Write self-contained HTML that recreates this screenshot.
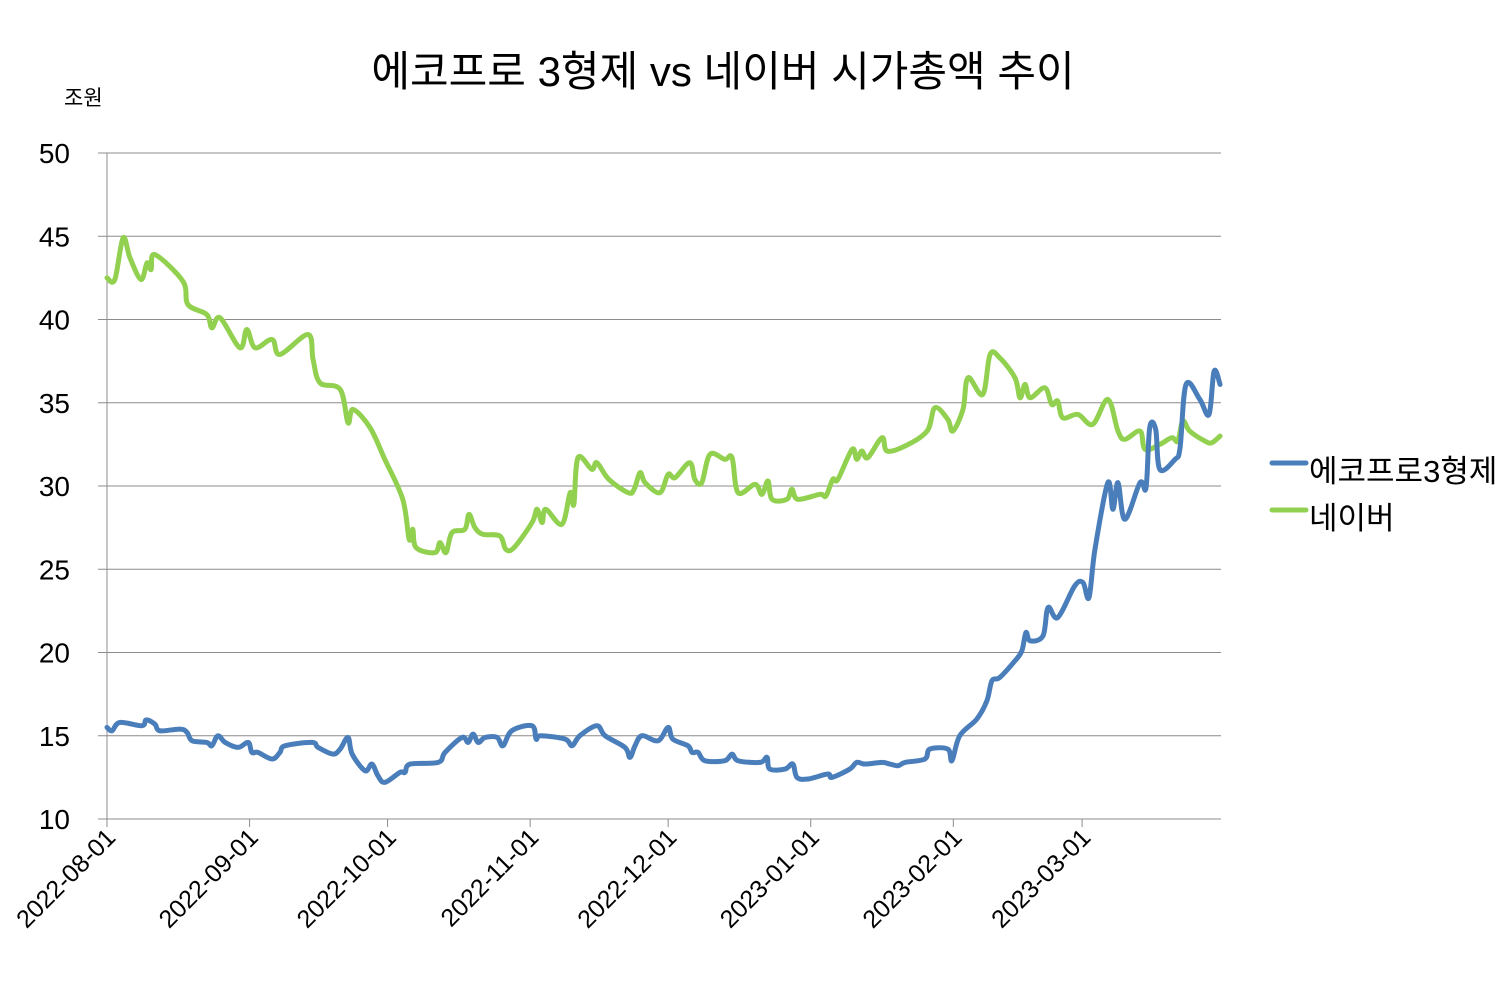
<!DOCTYPE html>
<html><head><meta charset="utf-8">
<style>
html,body{margin:0;padding:0;background:#fff;}
svg{display:block;font-family:"Liberation Sans","Noto Sans CJK KR",sans-serif;}
</style></head>
<body>
<svg id="chart" width="1509" height="981" viewBox="0 0 1509 981" xmlns="http://www.w3.org/2000/svg">
<rect width="1509" height="981" fill="#fff"/>
<text x="723" y="86" font-size="42" text-anchor="middle" fill="#000">에코프로 3형제 vs 네이버 시가총액 추이</text>
<text x="64" y="105" font-size="21" fill="#000">조원</text>
<g id="grid"></g>
<g id="axes"></g>
<g id="series"></g>
<g>
  <g>
    <line x1="1272" y1="463" x2="1306" y2="463" stroke="#4a7ebb" stroke-width="5" stroke-linecap="round"/>
    <text x="1309" y="482" font-size="31" fill="#000">에코프로3형제</text>
  </g>
  <g>
    <line x1="1272" y1="510" x2="1306" y2="510" stroke="#92d050" stroke-width="5" stroke-linecap="round"/>
    <text x="1309" y="529" font-size="31" fill="#000">네이버</text>
  </g>
</g>
</svg>
<script>
// day offsets from 2022-08-01
const naverDays=[0,1.7,3.5,5,7.4,8.7,9.6,10.4,16.5,17.6,21.7,22.8,24.6,28.9,30.4,32.2,35.9,37.6,43.7,44.8,46.3,50.7,52.4,53.5,57.2,60.4,64.3,65.7,66.5,67.2,71.3,72.4,73.7,75,77.8,78.7,80,81.7,85.4,86.7,88.5,92.4,93.5,94.6,95.4,98.9,100.7,101.5,102.4,105.4,106.5,109.1,113.3,114.6,115.9,117,120.2,122,123.5,126.7,127.8,129.3,131.1,134.3,135.9,137.2,140.9,142.4,143.7,144.6,147.8,148.9,150.2,155,156.3,157.8,158.9,162,163,164.1,165.4,168.5,169.6,173.5,178.3,180,182.8,183.9,186.1,187.2,190.4,192,194.1,197.4,198.5,199.6,200.7,203.9,205.4,206.7,207.8,211.1,214.3,217.6,219.8,221.3,224.6,225.7,228.9,231.5,232.8,233.9,235.4,238.7,240.2,242];
const naverValues=[42.5,42.4,44.9,43.7,42.4,43.4,43,43.9,42.3,40.9,40.3,39.5,40.1,38.3,39.4,38.3,38.8,37.9,39.1,37.6,36.2,35.8,33.8,34.6,33.5,31.6,29.2,26.8,27.4,26.3,26,26.6,26,27.2,27.4,28.3,27.5,27.1,27,26.2,26.3,27.8,28.6,27.8,28.6,27.7,29.6,28.9,31.7,31,31.4,30.4,29.6,29.8,30.8,30.2,29.6,30.7,30.5,31.4,30.4,30.2,31.9,31.6,31.7,29.6,30.1,29.5,30.3,29.2,29.2,29.8,29.2,29.5,29.4,30.4,30.4,32.2,31.6,32.1,31.7,32.9,32.1,32.4,33.3,34.7,34,33.3,34.6,36.5,35.5,37.9,37.7,36.5,35.3,36.1,35.3,35.9,34.9,35.1,34.1,34.3,33.7,35.2,33.3,32.8,33.3,32.2,32.5,32.9,32.7,33.9,33.3,32.7,32.6,33];
const ecoDays=[0,1.1,2.8,7.6,8.5,10.4,11.5,15.9,17.4,18.5,21.7,22.8,24.1,25.7,28.5,30.7,31.5,32.8,35.9,37.6,38.7,44.6,45.9,49.1,50.7,52.4,53.3,56.1,57.6,58.9,60.4,63.7,64.8,65.9,72,73.5,77.2,78.5,79.6,80.7,82.2,84.8,86.1,88,92.4,93.3,94.3,99.6,101.1,102.8,106.5,108.3,112.6,113.7,114.8,116.3,119.8,122,123,126.3,127.2,128.5,130,134.3,135.9,137.2,142,143.5,144.1,147.4,149.1,150,152.4,156.7,157.6,161.5,163,164.8,168.5,170.2,172,173.5,177.8,178.9,182.8,183.7,185.4,189.1,191.3,192.4,194.1,197.4,198.9,199.8,200.7,203.5,204.6,206.7,210.4,212.2,213.5,214.8,217.6,218.7,219.8,221.3,224.6,225.9,226.7,228,228.9,232.2,233.3,234.6,237.6,239.6,240.7,242];
const ecoValues=[15.5,15.3,15.8,15.6,15.95,15.7,15.3,15.4,15.2,14.7,14.6,14.4,15,14.6,14.3,14.6,14,14,13.6,14,14.4,14.6,14.3,13.9,14.2,14.9,13.9,12.9,13.3,12.6,12.2,12.8,12.8,13.3,13.4,14,14.9,14.6,15.1,14.6,14.9,14.9,14.4,15.3,15.6,14.8,15,14.8,14.4,15,15.6,15,14.3,13.7,14.4,15,14.7,15.5,14.8,14.4,14,14,13.5,13.5,13.9,13.5,13.4,13.7,13,13,13.3,12.5,12.4,12.7,12.5,13,13.4,13.3,13.4,13.3,13.2,13.4,13.6,14.2,14.2,13.5,15,16,17.1,18.3,18.5,19.5,20.1,21.2,20.7,21,22.7,22.1,24,24.2,23.3,26.2,30.2,28.6,30.2,28,30.2,29.9,33.5,33.4,31,31.6,32.3,36.1,35.2,34.3,36.9,36.1];
const yTicks=[10,15,20,25,30,35,40,45,50];
const xTickLabels=["2022-08-01","2022-09-01","2022-10-01","2022-11-01","2022-12-01","2023-01-01","2023-02-01","2023-03-01"];
const xTickDays=[0,31,61,92,122,153,184,212];

const X0=107,X1=1221,DMAX=242.2,Y0=819,Y1=153,VMIN=10,VMAX=50;
const xs=d=>X0+(d/DMAX)*(X1-X0);
const ys=v=>Y0-(v-VMIN)/(VMAX-VMIN)*(Y0-Y1);
const NS="http://www.w3.org/2000/svg";
function mk(tag,attrs,parent){const e=document.createElementNS(NS,tag);for(const k in attrs)e.setAttribute(k,attrs[k]);parent.appendChild(e);return e;}
const grid=document.getElementById('grid'),axes=document.getElementById('axes'),series=document.getElementById('series');
yTicks.forEach(v=>{
  if(v!==VMIN){const l=mk('line',{x1:98,x2:X1,y1:ys(v),y2:ys(v),stroke:'#8c8c8c','stroke-width':1},grid);
  
  }
  const t=mk('text',{x:70,y:ys(v)+10,'font-size':28,'text-anchor':'end',fill:'#000'},axes);
  t.textContent=v;
  
  
});
const ax=mk('line',{x1:X0,x2:X0,y1:Y1,y2:Y0,stroke:'#8c8c8c','stroke-width':1},axes);


const bx=mk('line',{x1:98,x2:X1,y1:Y0,y2:Y0,stroke:'#8c8c8c','stroke-width':1},axes);


xTickDays.forEach((d,i)=>{
  const x=xs(d);
  const tk=mk('line',{x1:x,x2:x,y1:Y0,y2:Y0+8,stroke:'#8c8c8c','stroke-width':1},axes);
  
  
  const t=mk('text',{x:x+10,y:Y0+20,'font-size':25,'text-anchor':'end',fill:'#000',transform:`rotate(-45 ${x+10} ${Y0+20})`},axes);
  t.textContent=xTickLabels[i];
  
  
});
function drawLine(days,vals,color,name){
  const pts=days.map((d,i)=>[xs(d),ys(vals[i])]);
  let dstr='M'+pts[0][0]+','+pts[0][1];
  for(let i=1;i<pts.length;i++){
    const p0=pts[i-2]||pts[i-1],p1=pts[i-1],p2=pts[i],p3=pts[i+1]||p2,t=0.17;
    const c1x=p1[0]+(p2[0]-p0[0])*t,c1y=p1[1]+(p2[1]-p0[1])*t;
    const c2x=p2[0]-(p3[0]-p1[0])*t,c2y=p2[1]-(p3[1]-p1[1])*t;
    dstr+=` C${c1x},${c1y} ${c2x},${c2y} ${p2[0]},${p2[1]}`;
  }
  const p=mk('path',{d:dstr,fill:'none',stroke:color,'stroke-width':5,'stroke-linejoin':'round','stroke-linecap':'round'},series);
  
  
}
drawLine(naverDays,naverValues,'#92d050','naver-line');
drawLine(ecoDays,ecoValues,'#4a7ebb','ecopro-line');
</script>
</body></html>
